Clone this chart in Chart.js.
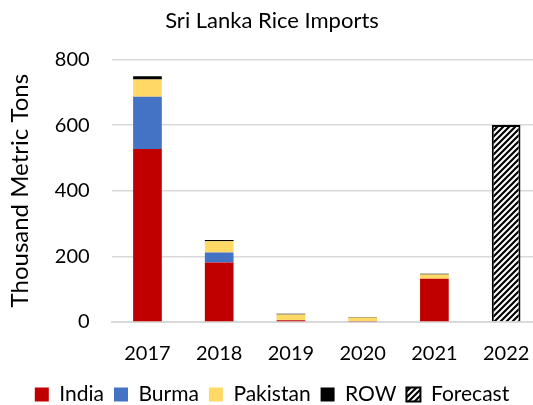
<!DOCTYPE html>
<html>
<head>
<meta charset="utf-8">
<script src="https://cdn.jsdelivr.net/npm/chart.js@4"></script>
<style>
  html, body { margin: 0; padding: 0; background: #fff; overflow: hidden; }
  #wrap { width: 542px; height: 417px; }
</style>
</head>
<body>
<div id="wrap"><canvas id="myChart"></canvas></div>
<script>
const years = ["2017", "2018", "2019", "2020", "2021", "2022"];
const india = [527, 181, 5, 3, 132, null];
const burma = [159, 31, 0, 0, 0, null];
const pakistan = [53, 34, 18, 11, 13, null];
const row = [10, 4, 2, 1, 2, null];
const forecast = [null, null, null, null, null, 600];

// hatch pattern for the forecast bar
function makeHatch() {
  const c = document.createElement("canvas");
  c.width = 6;
  c.height = 6;
  const g = c.getContext("2d");
  g.fillStyle = "#fff";
  g.fillRect(0, 0, 6, 6);
  g.strokeStyle = "#000";
  g.lineWidth = 2.2;
  g.beginPath();
  g.moveTo(-1, 7); g.lineTo(7, -1);
  g.moveTo(-4, 4); g.lineTo(4, -4);
  g.moveTo(2, 10); g.lineTo(10, 2);
  g.stroke();
  return g.createPattern(c, "repeat");
}
const hatch = makeHatch();

Chart.defaults.font.family = "Lato, 'Liberation Sans', sans-serif";
Chart.defaults.color = "#000";

const chartData = {
  labels: years,
  datasets: [
    { label: "India", data: india, backgroundColor: "#c00000" },
    { label: "Burma", data: burma, backgroundColor: "#4472c4" },
    { label: "Pakistan", data: pakistan, backgroundColor: "#ffd966" },
    { label: "ROW", data: row, backgroundColor: "#000000" },
    { label: "Forecast", data: forecast, backgroundColor: hatch, borderColor: "#000", borderWidth: 2 }
  ]
};

new Chart(document.getElementById("myChart"), {
  type: "bar",
  data: chartData,
  options: {
    responsive: true,
    maintainAspectRatio: false,
    animation: false,
    layout: { padding: { left: 2, right: 0, top: 2, bottom: 2 } },
    datasets: { bar: { barPercentage: 0.4, categoryPercentage: 1 } },
    plugins: {
      title: {
        display: true,
        text: "Sri Lanka Rice Imports",
        font: { size: 22, weight: "normal" },
        padding: { top: 6, bottom: 25 }
      },
      legend: {
        position: "bottom",
        labels: {
          boxWidth: 14,
          boxHeight: 14,
          padding: 10,
          font: { size: 21 }
        }
      },
      tooltip: { enabled: false }
    },
    scales: {
      x: {
        stacked: true,
        grid: { display: false },
        border: { display: true, color: "#d9d9d9", width: 2 },
        ticks: { font: { size: 20 }, padding: 12 },
        afterFit: (scale) => { scale.height -= 4; }
      },
      y: {
        stacked: true,
        min: 0,
        max: 800,
        ticks: { stepSize: 200, font: { size: 20 }, padding: 22 },
        grid: { color: "#d9d9d9", lineWidth: 1.5, drawTicks: false },
        border: { display: false },
        title: {
          display: true,
          text: "Thousand Metric Tons",
          font: { size: 24 },
          padding: { top: 4, bottom: 0 }
        },
        afterFit: (scale) => { scale.width -= 2; }
      }
    }
  }
});
</script>
</body>
</html>
